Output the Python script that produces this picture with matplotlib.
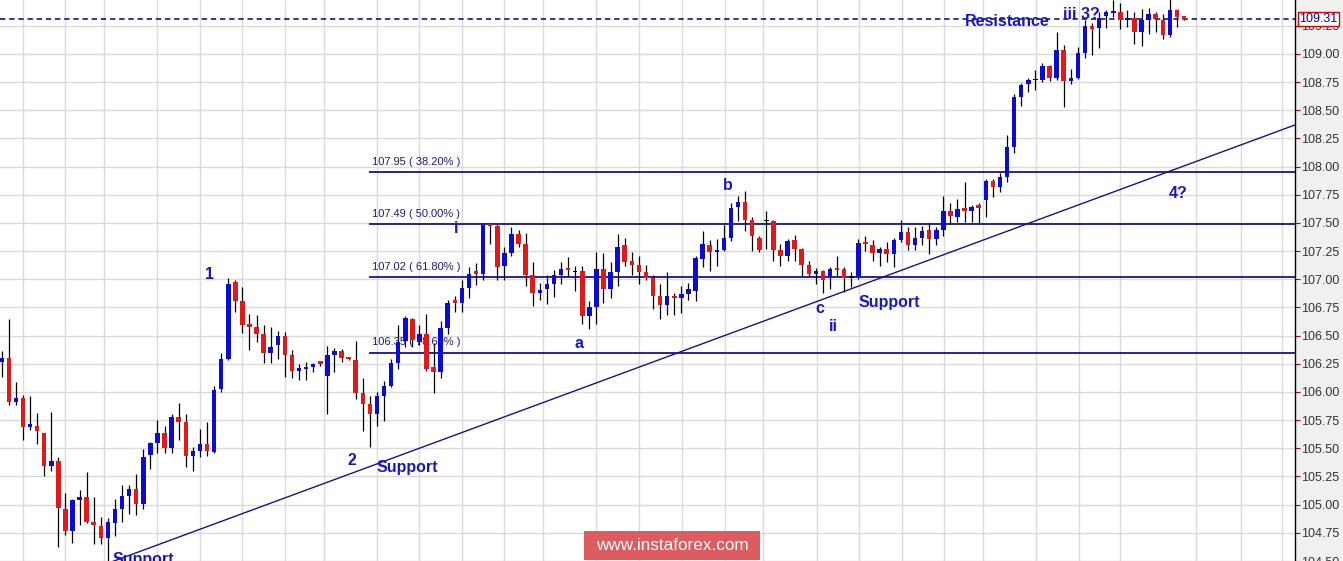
import numpy as np
import matplotlib.pyplot as plt
from matplotlib.patches import Rectangle
from matplotlib.transforms import blended_transform_factory

plt.rcParams["font.family"] = ["Liberation Sans", "DejaVu Sans"]

# 4H candles, oldest first
opens = [
    106.27, 106.30, 105.91, 105.95, 105.69, 105.70, 105.64, 105.34, 105.39, 104.96, 104.77, 105.04,
    105.07, 104.85, 104.81, 104.70, 104.84, 104.96, 105.08, 105.14, 105.01, 105.44, 105.55, 105.64,
    105.50, 105.78, 105.73, 105.43, 105.48, 105.54, 105.47, 106.03, 106.29, 106.98, 106.81, 106.59,
    106.58, 106.51, 106.35, 106.42, 106.50, 106.33, 106.19, 106.20, 106.22, 106.26, 106.14, 106.33,
    106.36, 106.30, 106.28, 105.99, 105.89, 105.80, 105.96, 106.05, 106.26, 106.45, 106.65, 106.44,
    106.51, 106.22, 106.18, 106.57, 106.80, 106.79, 106.92, 107.06, 107.05, 107.48, 107.47, 107.12,
    107.23, 107.40, 107.31, 107.04, 106.88, 106.91, 106.96, 107.04, 107.09, 107.07, 107.07, 106.67,
    106.75, 107.09, 106.91, 107.06, 107.30, 107.16, 107.13, 107.06, 107.01, 106.85, 106.77, 106.85,
    106.83, 106.87, 106.90, 107.18, 107.30, 107.24, 107.26, 107.37, 107.64, 107.69, 107.53, 107.37,
    107.52, 107.52, 107.26, 107.21, 107.35, 107.27, 107.13, 107.05, 107.07, 107.01, 107.09, 107.09,
    107.02, 107.02, 107.32, 107.30, 107.23, 107.27, 107.22, 107.35, 107.42, 107.30, 107.37, 107.44,
    107.36, 107.44, 107.61, 107.55, 107.62, 107.61, 107.66, 107.70, 107.87, 107.82, 107.91, 108.17,
    108.62, 108.73, 108.77, 108.77, 108.89, 108.79, 109.03, 108.76, 108.79, 109.01, 109.25, 109.23,
    109.34, 109.36, 109.37, 109.30, 109.32, 109.19, 109.30, 109.35, 109.30, 109.17, 109.39, 109.32,
]
highs = [
    106.36, 106.65, 106.09, 105.97, 105.96, 105.81, 105.64, 105.82, 105.42, 105.10, 105.05, 105.13,
    105.29, 105.07, 104.89, 104.88, 105.05, 105.17, 105.17, 105.27, 105.49, 105.56, 105.75, 105.70,
    105.80, 105.90, 105.80, 105.51, 105.67, 105.73, 106.05, 106.35, 107.01, 106.99, 106.93, 106.69,
    106.68, 106.59, 106.58, 106.54, 106.53, 106.37, 106.25, 106.27, 106.26, 106.27, 106.41, 106.39,
    106.38, 106.31, 106.45, 106.12, 105.96, 106.00, 106.10, 106.29, 106.59, 106.67, 106.66, 106.59,
    106.69, 106.43, 106.63, 106.82, 106.85, 106.99, 107.11, 107.14, 107.50, 107.49, 107.49, 107.29,
    107.46, 107.44, 107.41, 107.15, 106.97, 107.04, 107.08, 107.15, 107.20, 107.12, 107.12, 106.81,
    107.24, 107.23, 107.15, 107.40, 107.37, 107.24, 107.21, 107.13, 107.04, 106.96, 107.06, 106.88,
    106.94, 106.97, 107.21, 107.43, 107.35, 107.36, 107.48, 107.68, 107.74, 107.78, 107.55, 107.38,
    107.61, 107.53, 107.31, 107.36, 107.39, 107.28, 107.16, 107.10, 107.08, 107.11, 107.21, 107.11,
    107.06, 107.36, 107.38, 107.35, 107.29, 107.33, 107.37, 107.53, 107.46, 107.46, 107.47, 107.50,
    107.46, 107.74, 107.68, 107.71, 107.86, 107.66, 107.68, 107.89, 107.89, 107.94, 108.28, 108.64,
    108.74, 108.79, 108.86, 108.92, 108.90, 109.19, 109.08, 108.87, 109.06, 109.30, 109.27, 109.37,
    109.39, 109.48, 109.45, 109.39, 109.37, 109.40, 109.41, 109.37, 109.35, 109.50, 109.40, 109.34,
]
lows = [
    106.13, 105.88, 105.88, 105.57, 105.66, 105.54, 105.25, 105.30, 104.62, 104.73, 104.66, 104.82,
    104.84, 104.65, 104.65, 104.50, 104.72, 104.85, 104.92, 104.91, 104.96, 105.32, 105.46, 105.46,
    105.46, 105.57, 105.33, 105.30, 105.42, 105.43, 105.46, 106.00, 106.28, 106.71, 106.52, 106.37,
    106.44, 106.26, 106.26, 106.29, 106.13, 106.12, 106.11, 106.11, 106.18, 106.23, 105.80, 106.18,
    106.27, 106.28, 105.94, 105.65, 105.51, 105.70, 105.74, 106.04, 106.20, 106.40, 106.40, 106.42,
    106.19, 105.99, 106.12, 106.51, 106.71, 106.71, 106.83, 106.95, 106.99, 107.31, 106.99, 106.99,
    107.21, 107.29, 106.94, 106.76, 106.82, 106.78, 106.84, 106.96, 107.03, 106.90, 106.60, 106.56,
    106.60, 106.79, 106.83, 106.94, 107.12, 107.04, 106.96, 106.99, 106.74, 106.65, 106.68, 106.68,
    106.70, 106.82, 106.81, 107.11, 107.07, 107.12, 107.25, 107.34, 107.52, 107.43, 107.25, 107.24,
    107.27, 107.16, 107.12, 107.16, 107.16, 107.03, 107.03, 106.96, 106.88, 106.91, 107.03, 106.89,
    106.93, 107.00, 107.25, 107.16, 107.12, 107.15, 107.11, 107.33, 107.26, 107.26, 107.30, 107.22,
    107.30, 107.38, 107.49, 107.51, 107.51, 107.51, 107.50, 107.55, 107.73, 107.77, 107.86, 108.12,
    108.54, 108.66, 108.68, 108.75, 108.76, 108.77, 108.53, 108.73, 108.78, 108.96, 108.99, 109.05,
    109.23, 109.33, 109.22, 109.24, 109.09, 109.07, 109.18, 109.19, 109.13, 109.15, 109.24, 109.30,
]
closes = [
    106.30, 105.91, 105.95, 105.69, 105.70, 105.65, 105.34, 105.39, 104.97, 104.77, 105.04, 105.07,
    104.85, 104.82, 104.70, 104.85, 104.96, 105.08, 105.14, 105.01, 105.42, 105.55, 105.64, 105.50,
    105.78, 105.73, 105.43, 105.48, 105.54, 105.48, 106.02, 106.29, 106.96, 106.81, 106.59, 106.58,
    106.51, 106.35, 106.40, 106.50, 106.33, 106.19, 106.20, 106.22, 106.25, 106.25, 106.33, 106.36,
    106.30, 106.29, 105.99, 105.89, 105.80, 105.96, 106.05, 106.26, 106.44, 106.66, 106.46, 106.51,
    106.20, 106.18, 106.57, 106.79, 106.79, 106.92, 107.05, 107.05, 107.49, 107.47, 107.11, 107.23,
    107.40, 107.31, 107.04, 106.88, 106.90, 106.96, 107.04, 107.09, 107.08, 107.07, 106.67, 106.75,
    107.09, 106.91, 107.06, 107.29, 107.15, 107.13, 107.06, 107.01, 106.85, 106.77, 106.85, 106.83,
    106.87, 106.91, 107.19, 107.31, 107.24, 107.26, 107.37, 107.63, 107.69, 107.53, 107.38, 107.26,
    107.52, 107.26, 107.21, 107.34, 107.27, 107.13, 107.05, 107.07, 106.99, 107.09, 107.08, 107.01,
    107.02, 107.32, 107.31, 107.23, 107.27, 107.22, 107.35, 107.42, 107.30, 107.37, 107.43, 107.36,
    107.44, 107.61, 107.56, 107.62, 107.61, 107.64, 107.63, 107.87, 107.82, 107.91, 108.17, 108.62,
    108.72, 108.77, 108.77, 108.89, 108.79, 109.03, 108.76, 108.79, 109.01, 109.25, 109.22, 109.32,
    109.37, 109.37, 109.30, 109.32, 109.19, 109.30, 109.35, 109.31, 109.17, 109.39, 109.33, 109.31,
]

# fibonacci retracement levels
fib_levels = [107.95, 107.49, 107.02, 106.35]
fib_labels = ["107.95 ( 38.20% )", "107.49 ( 50.00% )", "107.02 ( 61.80% )", "106.35 ( 78.60% )"]
fib_start = 51.9  # candle index where the fib lines begin

# support trendline (candle index, price)
trend_x = [15, 182.7]
trend_y = [104.48, 108.37]

# wave labels: text, candle index, price, alignment
labels = [
    ("1", 29.4, 107.04, "center"),
    ("2", 49.4, 105.39, "center"),
    ("Support", 53.0, 105.33, "left"),
    ("i", 64.2, 107.45, "center"),
    ("a", 81.6, 106.43, "center"),
    ("b", 102.5, 107.83, "center"),
    ("c", 115.6, 106.74, "center"),
    ("ii", 117.5, 106.58, "center"),
    ("Support", 121.0, 106.79, "left"),
    ("Resistance", 136.0, 109.29, "left"),
    ("iii 3?", 149.9, 109.35, "left"),
    ("4?", 164.9, 107.76, "left"),
    ("Support", 15.7, 104.51, "left"),
]

# day separators (in candle index units)
day_lines = [3.0, 8.9, 14.5, 21.9, 28.0, 33.9, 40.0, 45.5, 53.0, 58.9, 65.0, 71.0, 76.5,
             83.9, 90.0, 96.1, 102.2, 107.5, 115.2, 121.1, 127.2, 133.1, 138.6, 146.1,
             152.2, 158.0, 168.7, 175.0, 180.8]

o = np.array(opens)
h = np.array(highs)
l = np.array(lows)
c = np.array(closes)
x = np.arange(len(o))

navy = "#14148f"
label_blue = "#1717c6"

fig = plt.figure(figsize=(13.43, 5.61), dpi=100, facecolor="#f0f0f0")
ax = fig.add_axes([0, 0, 1295 / 1343, 1])
ax.set_facecolor("white")
ax.set_xlim(-0.24, 182.67)
ax.set_ylim(104.513, 109.478)

# grid
yt = np.arange(104.5, 109.26, 0.25)
ax.set_yticks(yt)
ax.set_yticklabels([f"{v:.2f}" for v in yt])
ax.set_xticks([])
ax.set_axisbelow(True)
ax.grid(axis="y", color="#dadada", lw=1.0)
for d in day_lines:
    ax.axvline(d, color="#dadada", lw=1.0, zorder=0.5)

for s in ["left", "top", "bottom"]:
    ax.spines[s].set_visible(False)
ax.spines["right"].set_color("black")
ax.spines["right"].set_linewidth(1.0)
ax.yaxis.tick_right()
ax.tick_params(axis="y", direction="out", length=3.6, width=0.8, color="#c00000",
               labelsize=9, labelcolor="#333333", pad=0.8)

# fib lines + labels
ax.hlines(fib_levels, fib_start, 182.67, color=navy, lw=1.3, zorder=1.8)
for lev, txt in zip(fib_levels, fib_labels):
    ax.text(fib_start + 0.4, lev + 0.045, txt, fontsize=8, color="#1a1a80",
            ha="left", va="bottom", zorder=1.9)

# trendline and resistance
ax.plot(trend_x, trend_y, color=navy, lw=1.0, zorder=1.8)
ax.axhline(c[-1], color="#000080", lw=1.1, ls=(0, (3.5, 2.5)), zorder=1.8)

# candles
up = c > o
down = c < o
flat = c == o
ax.vlines(x, l, h, color="black", lw=0.9, zorder=2)
body_h = np.maximum(np.abs(c - o), 0.022)
body_b = np.minimum(o, c)
w = 0.64
ax.bar(x[up], body_h[up], bottom=body_b[up], width=w, color="#0b0bd8", zorder=3)
ax.bar(x[down], body_h[down], bottom=body_b[down], width=w, color="#e41818", zorder=3)
ax.bar(x[flat], 0.012, bottom=body_b[flat] - 0.006, width=w, color="black", zorder=3)

# wave labels
for txt, lx, ly, ha in labels:
    ax.text(lx, ly, txt, fontsize=11.5, fontweight="bold", color=label_blue,
            ha=ha, va="center", zorder=4, clip_on=False)

# last price tag
ax.annotate(f"{c[-1]:.2f}", xy=(1.0, c[-1]),
            xycoords=blended_transform_factory(ax.transAxes, ax.transData),
            xytext=(3.0, 0), textcoords="offset points", ha="left", va="center",
            fontsize=9, color="#0000cc", annotation_clip=False, zorder=10,
            bbox=dict(boxstyle="square,pad=0.1", fc="white", ec="#dd0000", lw=1.0))

# watermark
fig.patches.append(Rectangle((584 / 1343, 1 / 561), 176 / 1343, 29 / 561,
                             transform=fig.transFigure, fc="#dc5c5f", ec="none", zorder=10))
fig.text(672 / 1343, (561 - 545) / 561, "www.instaforex.com", color="white",
         fontsize=12.3, ha="center", va="center", zorder=11)

fig.savefig("out.png", dpi=100, facecolor=fig.get_facecolor())
plt.close(fig)
